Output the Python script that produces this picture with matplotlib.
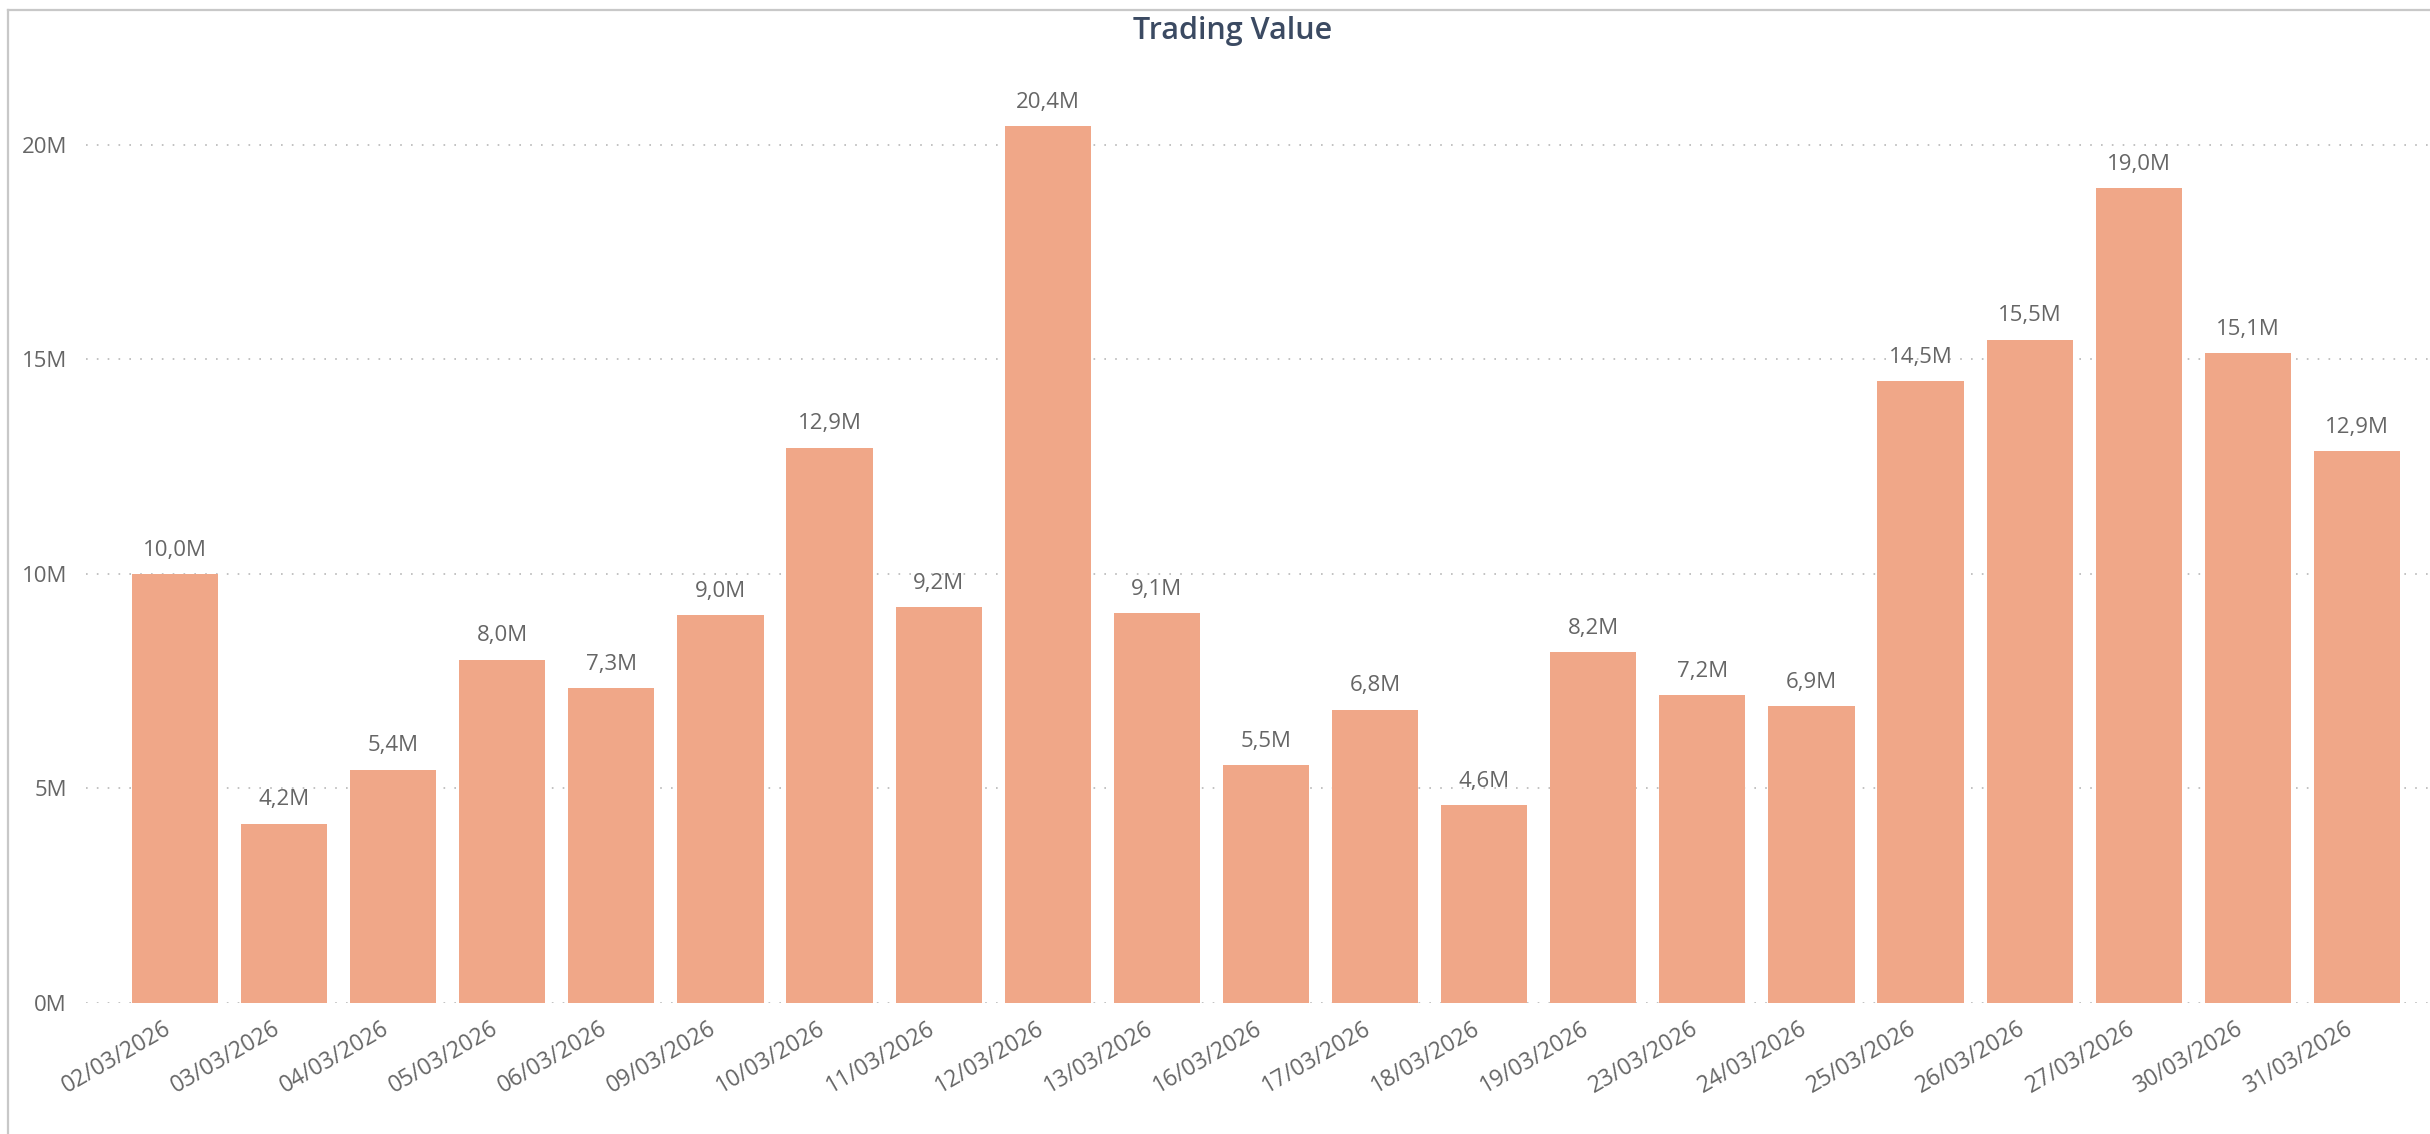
import matplotlib
matplotlib.use("Agg")
import matplotlib.pyplot as plt
import matplotlib.transforms as mtransforms
from matplotlib.lines import Line2D
from matplotlib.ticker import FuncFormatter, MultipleLocator

dates = ["02/03/2026", "03/03/2026", "04/03/2026", "05/03/2026", "06/03/2026",
         "09/03/2026", "10/03/2026", "11/03/2026", "12/03/2026", "13/03/2026",
         "16/03/2026", "17/03/2026", "18/03/2026", "19/03/2026", "23/03/2026",
         "24/03/2026", "25/03/2026", "26/03/2026", "27/03/2026", "30/03/2026",
         "31/03/2026"]
values_m = [10.0, 4.18, 5.44, 8.0, 7.34, 9.04, 12.94, 9.22, 20.43, 9.08,
            5.54, 6.84, 4.61, 8.18, 7.17, 6.92, 14.49, 15.46, 18.99, 15.14, 12.86]
values = [v * 1e6 for v in values_m]
title = "Trading Value"

plt.rcParams['font.family'] = ['Open Sans', 'DejaVu Sans']

W, H = 2430, 1134
fig = plt.figure(figsize=(W / 100, H / 100), dpi=100)
left, right = 86 / W, 1.0
bottom, top = (H - 1003) / H, (H - 59) / H
ax = fig.add_axes([left, bottom, right - left, top - bottom])

bar_color = "#F0A788"
x = list(range(len(dates)))
ax.bar(x, values, width=0.79, color=bar_color, zorder=2)

ax.set_xlim(-0.816, 20.67)
ax.set_ylim(0, 22e6)

ax.yaxis.set_major_locator(MultipleLocator(5e6))
ax.yaxis.set_major_formatter(FuncFormatter(lambda v, p: f"{int(round(v / 1e6))}M"))
ax.grid(axis='y', color="#b8b8b8", linestyle=(0, (1, 5.5)), linewidth=1.2, zorder=0)
ax.set_axisbelow(True)
for s in ax.spines.values():
    s.set_visible(False)

ax.tick_params(axis='y', length=0, pad=13.7, labelsize=16, labelcolor="#666666")
ax.tick_params(axis='x', length=0, pad=10, labelsize=16.5, labelcolor="#666666")

ax.set_xticks(x)
ax.set_xticklabels(dates, rotation=30, ha='right', va='top', rotation_mode='anchor')
offset = mtransforms.ScaledTranslation(-12 / 100, 0, fig.dpi_scale_trans)
for lab in ax.get_xticklabels():
    lab.set_transform(lab.get_transform() + offset)

for xi, v in zip(x, values):
    ax.annotate(f"{v / 1e6:.1f}M".replace('.', ','), (xi, v), xytext=(0, 13.2),
                textcoords='offset points', ha='center', va='baseline',
                fontsize=16, color="#666666")

fig.text(1233 / W, 1 - 31 / H, title, ha='center', va='center', fontsize=22,
         color="#3b4a62", fontweight='semibold')

# frame lines
fig.add_artist(Line2D([8 / W, 1.0], [1 - 10 / H, 1 - 10 / H], transform=fig.transFigure,
                      color="#c8c8c8", linewidth=1.6))
fig.add_artist(Line2D([8 / W, 8 / W], [0, 1 - 10 / H], transform=fig.transFigure,
                      color="#c8c8c8", linewidth=1.6))

fig.savefig("out.png", dpi=100, facecolor="white")
